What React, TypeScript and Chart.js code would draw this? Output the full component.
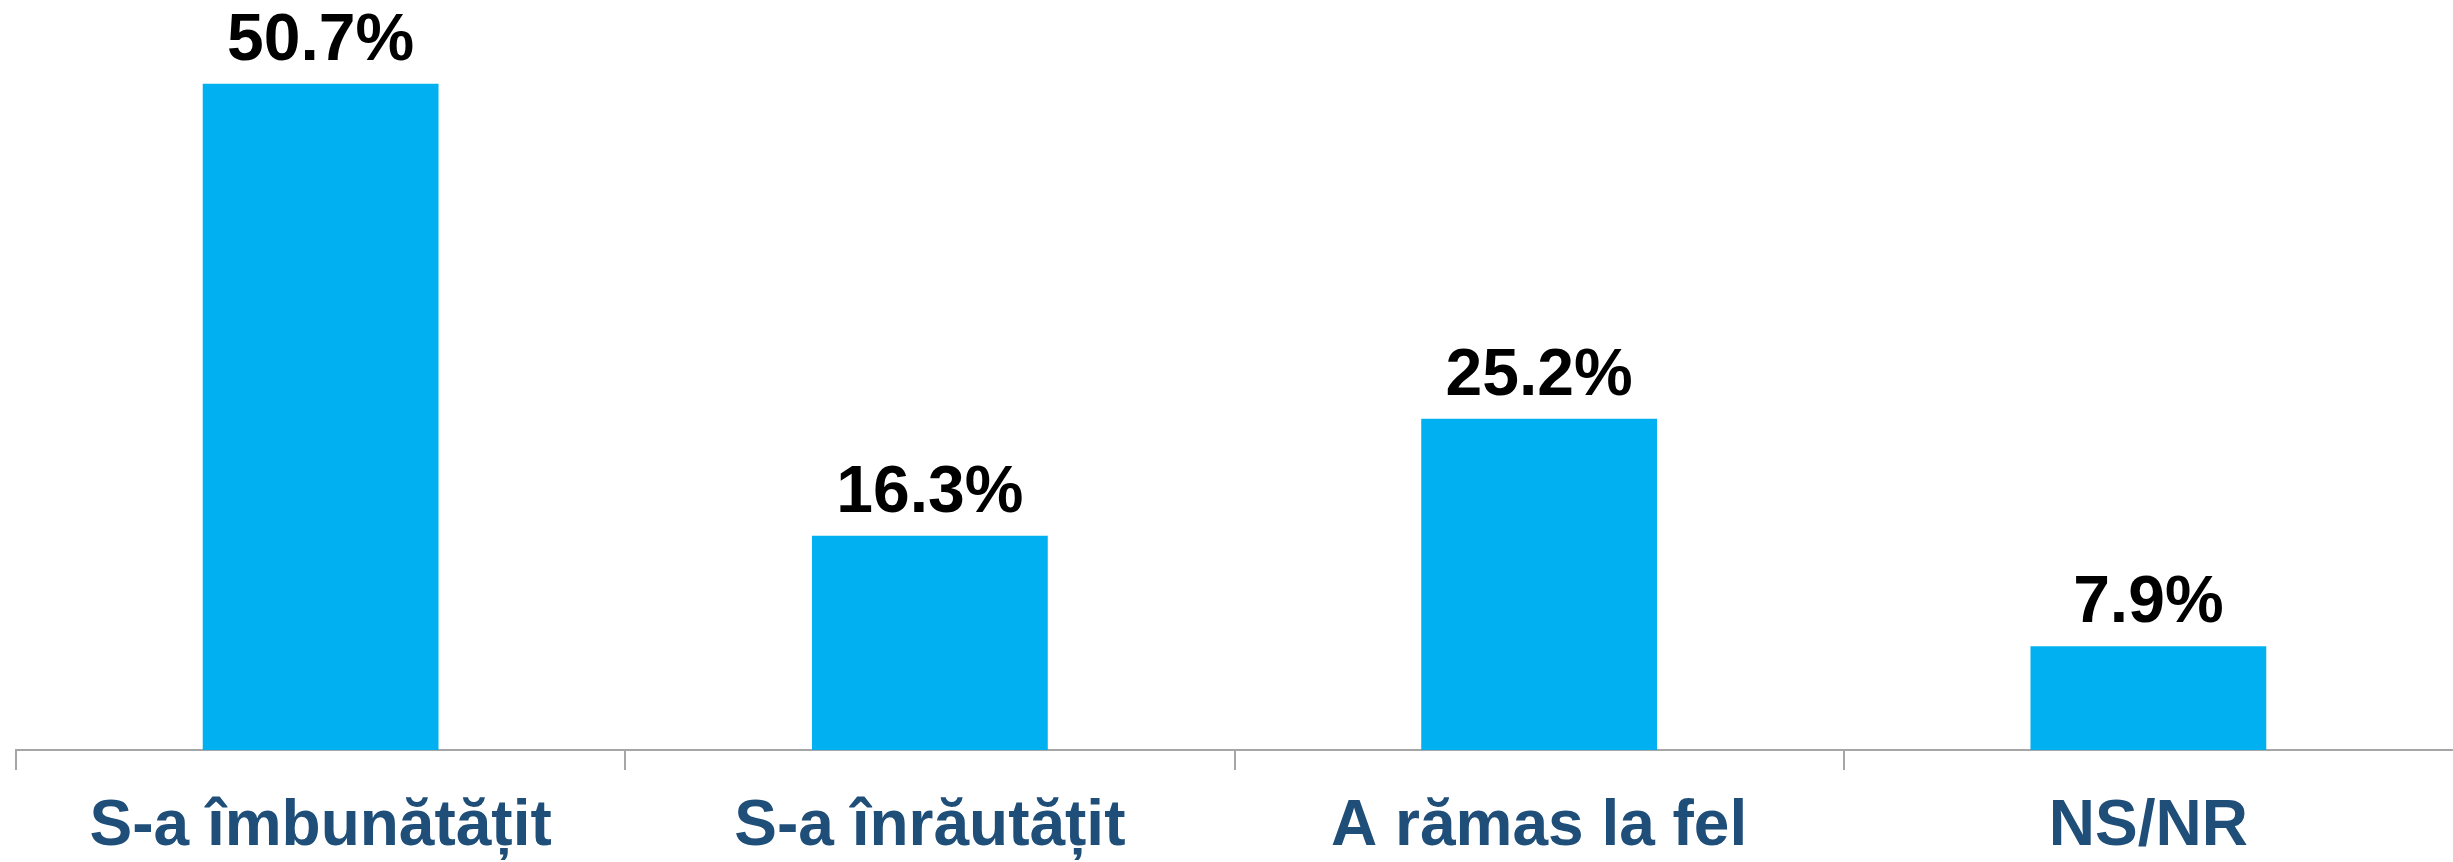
import React, { useEffect, useRef } from "react";
import { Chart, registerables } from "chart.js";

Chart.register(...registerables);

const categories = ["S-a îmbunătățit", "S-a înrăutățit", "A rămas la fel", "NS/NR"];
const values = [50.7, 16.3, 25.2, 7.9];
const valueLabels = ["50.7%", "16.3%", "25.2%", "7.9%"];

const FONT = "'Liberation Sans', Arial, sans-serif";

const labelPlugin = {
  id: "valueLabels",
  afterDatasetsDraw(chart: any) {
    const ctx = chart.ctx;
    const meta = chart.getDatasetMeta(0);
    ctx.save();
    ctx.fillStyle = "#000000";
    ctx.font = `bold 66px ${FONT}`;
    ctx.textAlign = "center";
    ctx.textBaseline = "alphabetic";
    meta.data.forEach((bar: any, i: number) => {
      ctx.fillText(valueLabels[i], bar.x, bar.y - 24);
    });
    ctx.restore();
  },
};

export default function App() {
  const ref = useRef<HTMLCanvasElement | null>(null);
  useEffect(() => {
    document.body.style.margin = "0";
    const c = new Chart(ref.current as HTMLCanvasElement, {
      type: "bar",
      data: {
        labels: categories,
        datasets: [
          {
            data: values,
            backgroundColor: "#00B0F0",
            barPercentage: 0.387,
            categoryPercentage: 1,
          },
        ],
      },
      options: {
        animation: false,
        responsive: false,
        maintainAspectRatio: false,
        layout: { padding: { left: 16, right: 0, top: 14, bottom: 0 } },
        plugins: { legend: { display: false }, tooltip: { enabled: false } },
        scales: {
          y: { display: false, min: 0, max: 56 },
          x: {
            offset: true,
            afterFit: (scale: any) => {
              scale.height = 112;
            },
            grid: {
              display: true,
              offset: true,
              drawOnChartArea: false,
              drawTicks: true,
              tickLength: 20,
              color: (ctx: any) => (ctx.type === "tick" ? "#A6A6A6" : "rgba(0,0,0,0)"),
              lineWidth: 2,
            },
            border: { display: true, color: "#A6A6A6", width: 2 },
            ticks: {
              color: "#1F4E79",
              font: { family: FONT, size: 64, weight: "bold", lineHeight: 1.2 },
              padding: 19,
              maxRotation: 0,
              autoSkip: false,
            },
          },
        },
      },
      plugins: [labelPlugin],
    });
    return () => c.destroy();
  }, []);
  return (
    <div style={{ width: 2453, height: 862 }}>
      <canvas ref={ref} width={2453} height={862} style={{ display: "block" }} />
    </div>
  );
}
